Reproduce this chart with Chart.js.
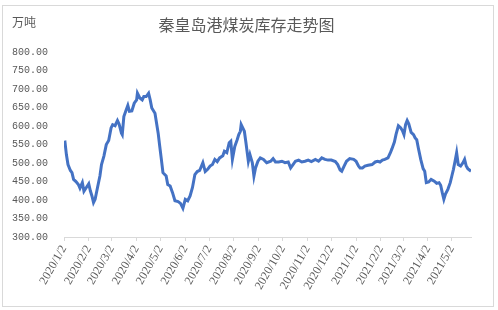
<!DOCTYPE html>
<html>
<head>
<meta charset="utf-8">
<script src="https://cdn.jsdelivr.net/npm/chart.js@4.4.1/dist/chart.umd.min.js"></script>
<style>
  html, body { margin: 0; padding: 0; background: #fff; }
  #wrap { width: 498px; height: 310px; }
</style>
</head>
<body>
<div id="wrap"><canvas id="stockChart" width="498" height="310"></canvas></div>
<script>
// days counted from 2020/1/2
const dayOffsets = [
  1, 3, 5, 8, 10, 12, 15, 18, 20, 23, 25, 28, 31, 33, 35, 37, 39, 42, 45, 47,
  50, 53, 56, 59, 61, 64, 67, 69, 72, 73, 75, 78, 80, 82, 85, 88, 91, 92, 95, 98,
  100, 103, 106, 108, 110, 114, 116, 118, 120, 122, 124, 128, 130, 133, 136, 139, 143, 146, 149, 152,
  155, 158, 161, 164, 167, 170, 174, 177, 180, 183, 186, 189, 192, 195, 199, 201, 204, 207, 209, 211,
  214, 217, 219, 221, 222, 224, 226, 228, 231, 233, 236, 238, 240, 243, 246, 250, 254, 259, 262, 265,
  269, 273, 277, 281, 284, 287, 290, 294, 298, 302, 306, 310, 315, 319, 323, 327, 331, 335, 340, 343,
  346, 348, 351, 354, 358, 363, 366, 369, 371, 374, 377, 381, 386, 390, 393, 396, 399, 402, 406, 409,
  411, 414, 416, 419, 422, 424, 426, 428, 430, 432, 435, 438, 440, 442, 444, 447, 450, 452, 454, 457,
  460, 464, 467, 470, 472, 474, 476, 478, 481, 484, 486, 488, 490, 492, 494, 497, 500, 502, 504, 506,
  510
];
const stockValues = [
  561, 523, 496, 480, 474, 456, 450, 442, 432, 447, 424, 434, 444, 425, 411, 393, 402, 434, 465, 496,
  519, 550, 561, 595, 604, 601, 615, 606, 581, 577, 626, 644, 656, 640, 641, 662, 671, 689, 676, 671,
  680, 680, 689, 671, 649, 635, 608, 581, 545, 510, 474, 465, 442, 438, 420, 398, 396, 391, 378, 402,
  398, 411, 434, 469, 477, 480, 501, 477, 483, 492, 496, 510, 504, 514, 520, 532, 528, 555, 559, 510,
  545, 563, 577, 586, 604, 595, 586, 555, 505, 523, 501, 465, 487, 505, 514, 510, 501, 505, 512, 503,
  503, 505, 501, 503, 487, 496, 505, 508, 503, 505, 508, 504, 510, 505, 514, 510, 508, 508, 504, 496,
  481, 478, 492, 505, 512, 510, 505, 492, 487, 487, 492, 494, 496, 503, 505, 503, 508, 510, 514, 528,
  539, 557, 577, 601, 595, 588, 577, 604, 615, 606, 583, 577, 568, 563, 541, 510, 485, 478, 447, 449,
  456, 451, 445, 447, 440, 420, 402, 416, 429, 447, 465, 483, 505, 528, 496, 492, 501, 510, 492, 485,
  478
];
const tickLabels = [
  '2020/1/2', '2020/2/2', '2020/3/2', '2020/4/2', '2020/5/2', '2020/6/2', '2020/7/2', '2020/8/2',
  '2020/9/2', '2020/10/2', '2020/11/2', '2020/12/2', '2021/1/2', '2021/2/2', '2021/3/2', '2021/4/2', '2021/5/2'
];

const startDay = Date.UTC(2020, 0, 2);
function toDay(label) {
  const p = label.split('/');
  return Math.round((Date.UTC(+p[0], +p[1] - 1, +p[2]) - startDay) / 86400000);
}
const tickDays = tickLabels.map(toDay);

const gray = '#595959';

// outer frame + unit label
const framePlugin = {
  id: 'frame',
  beforeDraw(chart) {
    const ctx = chart.ctx;
    ctx.save();
    ctx.fillStyle = '#fff';
    ctx.fillRect(0, 0, chart.width, chart.height);
    ctx.strokeStyle = '#d9d9d9';
    ctx.lineWidth = 1;
    ctx.strokeRect(2.5, 5.5, 491, 301);
    ctx.fillStyle = gray;
    ctx.font = '12px "Noto Sans CJK SC"';
    ctx.textBaseline = 'middle';
    ctx.fillText('万吨', 12, 22);
    ctx.restore();
  }
};

const ctx = document.getElementById('stockChart').getContext('2d');
new Chart(ctx, {
  type: 'line',
  data: {
    datasets: [{
      label: '库存',
      data: dayOffsets.map((d, i) => ({ x: d, y: stockValues[i] })),
      borderColor: '#4472C4',
      borderWidth: 3,
      pointRadius: 0,
      tension: 0,
      fill: false
    }]
  },
  options: {
    responsive: false,
    animation: false,
    layout: { padding: { left: 0, right: 5, top: 0, bottom: 0 } },
    plugins: {
      legend: { display: false },
      tooltip: { enabled: false },
      title: {
        display: true,
        text: '秦皇岛港煤炭库存走势图',
        color: gray,
        font: { family: '"Noto Sans CJK SC"', size: 16, weight: 'normal' },
        padding: { top: 15, bottom: 18 }
      }
    },
    scales: {
      x: {
        type: 'linear',
        min: 0,
        max: 510,
        afterBuildTicks: (scale) => {
          scale.ticks = tickDays.map(v => ({ value: v }));
        },
        afterFit: (scale) => { scale.height = 73; },
        grid: { drawOnChartArea: false, drawTicks: true, tickLength: 4, color: '#d9d9d9' },
        border: { display: true, color: '#d9d9d9' },
        ticks: {
          autoSkip: false,
          minRotation: 60,
          maxRotation: 60,
          padding: 2,
          color: gray,
          font: { family: '"Liberation Serif"', size: 12 },
          callback: (v) => {
            const i = tickDays.indexOf(v);
            return i >= 0 ? tickLabels[i] : '';
          }
        }
      },
      y: {
        min: 300,
        max: 800,
        afterFit: (scale) => { scale.width = 64; },
        grid: { display: false, drawTicks: false },
        border: { display: false },
        ticks: {
          stepSize: 50,
          padding: 16,
          color: gray,
          font: { family: '"Liberation Mono"', size: 10 },
          callback: (v) => v.toFixed(2)
        }
      },
      // empty right gutter so the title sits centred on the frame
      yRight: {
        position: 'right',
        min: 300,
        max: 800,
        afterFit: (scale) => { scale.width = 22; },
        grid: { display: false, drawTicks: false },
        border: { display: false },
        ticks: { display: false }
      }
    }
  },
  plugins: [framePlugin]
});
</script>
</body>
</html>
